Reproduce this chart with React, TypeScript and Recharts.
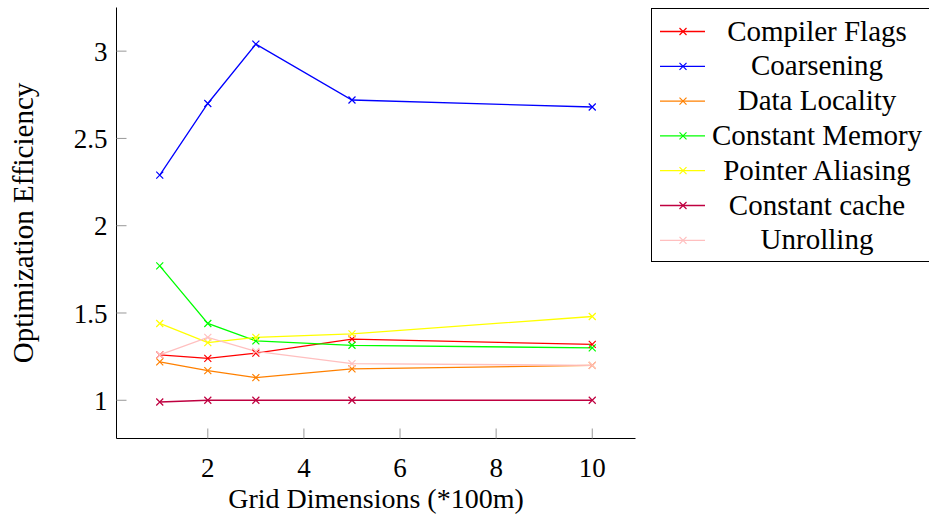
import React from 'react';
import { LineChart, Line, XAxis, YAxis, Legend } from 'recharts';

// grid sizes (*100m)
const gridDims = [1, 2, 3, 5, 10];

const compilerFlags = [1.26, 1.24, 1.27, 1.35, 1.32];
const coarsening = [2.29, 2.7, 3.04, 2.72, 2.68];
const dataLocality = [1.22, 1.17, 1.13, 1.18, 1.2];
const constantMemory = [1.77, 1.44, 1.34, 1.315, 1.3];
const pointerAliasing = [1.44, 1.33, 1.36, 1.38, 1.48];
const constantCache = [0.99, 1.0, 1.0, 1.0, 1.0];
const unrolling = [1.26, 1.36, 1.28, 1.21, 1.2];

const seriesNames = [
  'Compiler Flags',
  'Coarsening',
  'Data Locality',
  'Constant Memory',
  'Pointer Aliasing',
  'Constant cache',
  'Unrolling',
];
const seriesValues = [
  compilerFlags,
  coarsening,
  dataLocality,
  constantMemory,
  pointerAliasing,
  constantCache,
  unrolling,
];
const seriesColors = ['#ff0000', '#0000ff', '#ff8000', '#00ff00', '#ffff00', '#bf0040', '#ffbfbf'];

const xTicks = [2, 4, 6, 8, 10];
const yTicks = [1, 1.5, 2, 2.5, 3];

const data = gridDims.map((x, i) => {
  const row: Record<string, number> = { x };
  seriesNames.forEach((name, s) => {
    row[name] = seriesValues[s][i];
  });
  return row;
});

const FONT = "'Liberation Serif', 'Times New Roman', serif";
const W = 929;
const H = 516;
const PLOT_LEFT = 116.5;
const PLOT_RIGHT = 635.5;
const PLOT_TOP = 7.5;
const PLOT_BOTTOM = 438.5;

const XMark = (props: any) => {
  const { cx, cy, stroke } = props;
  if (cx == null || cy == null) return null;
  const r = 3.5;
  return (
    <path
      d={`M${cx - r},${cy - r}L${cx + r},${cy + r}M${cx - r},${cy + r}L${cx + r},${cy - r}`}
      stroke={stroke}
      strokeWidth={1.2}
      fill="none"
    />
  );
};

const XTitle = (props: any) => {
  const vb = props.viewBox || {};
  const cx = vb.width ? vb.x + vb.width / 2 : (PLOT_LEFT + PLOT_RIGHT) / 2;
  return (
    <text x={cx} y={508} textAnchor="middle" style={{ fontFamily: FONT, fontSize: 28 }} fill="#000">
      Grid Dimensions (*100m)
    </text>
  );
};

const YTitle = (props: any) => {
  const vb = props.viewBox || {};
  const cy = vb.height ? vb.y + vb.height / 2 : (PLOT_TOP + PLOT_BOTTOM) / 2;
  const cx = 33;
  return (
    <text
      x={cx}
      y={cy}
      transform={`rotate(-90 ${cx} ${cy})`}
      textAnchor="middle"
      style={{ fontFamily: FONT, fontSize: 29 }}
      fill="#000"
    >
      Optimization Efficiency
    </text>
  );
};

// keep the legend in plotting order (recharts sorts by name otherwise)
const renderLegend = () => {
  const rowH = 34.8;
  return (
    <svg width={290} height={254} style={{ display: 'block' }}>
      {seriesNames.map((name, i) => {
        const cy = 22.5 + i * rowH;
        return (
          <g key={name}>
            <line x1={8} x2={53} y1={cy} y2={cy} stroke={seriesColors[i]} strokeWidth={1.3} />
            <XMark cx={31} cy={cy} stroke={seriesColors[i]} />
            <text
              x={165}
              y={cy + 9}
              textAnchor="middle"
              style={{ fontFamily: FONT, fontSize: 29 }}
              fill="#000"
            >
              {name}
            </text>
          </g>
        );
      })}
    </svg>
  );
};

const tickStyle = { fill: '#000', fontSize: 27, fontFamily: FONT };
const emptyTick = () => <g />;

export default function App() {
  return (
    <div style={{ position: 'absolute', left: 0, top: 0, width: W, height: H, background: '#fff' }}>
      <LineChart
        width={W}
        height={H}
        data={data}
        margin={{ top: PLOT_TOP, right: W - PLOT_RIGHT, bottom: 0, left: 0 }}
      >
        <XAxis
          xAxisId="bottom"
          dataKey="x"
          type="number"
          domain={[0.1, 10.9]}
          ticks={xTicks}
          allowDataOverflow
          height={H - PLOT_BOTTOM}
          axisLine={{ stroke: '#000', strokeWidth: 1 }}
          tickLine={{ stroke: '#999' }}
          tickSize={-10}
          tickMargin={29}
          tick={tickStyle}
          label={<XTitle />}
        />
        <XAxis
          xAxisId="top"
          orientation="top"
          dataKey="x"
          type="number"
          domain={[0.1, 10.9]}
          ticks={xTicks}
          allowDataOverflow
          height={0}
          axisLine={{ stroke: '#000', strokeWidth: 1 }}
          tickLine={{ stroke: '#999' }}
          tickSize={-10}
          tick={emptyTick}
        />
        <YAxis
          yAxisId="left"
          type="number"
          domain={[0.781, 3.25]}
          ticks={yTicks}
          allowDataOverflow
          width={PLOT_LEFT}
          axisLine={{ stroke: '#000', strokeWidth: 1 }}
          tickLine={{ stroke: '#999' }}
          tickSize={-10}
          tickMargin={19}
          tick={tickStyle}
          label={<YTitle />}
        />
        <YAxis
          yAxisId="right"
          orientation="right"
          type="number"
          domain={[0.781, 3.25]}
          ticks={yTicks}
          allowDataOverflow
          width={0}
          axisLine={{ stroke: '#000', strokeWidth: 1 }}
          tickLine={{ stroke: '#999' }}
          tickSize={-10}
          tick={emptyTick}
        />
        <Legend
          layout="vertical"
          align="center"
          verticalAlign="middle"
          content={renderLegend}
          wrapperStyle={{
            position: 'absolute',
            left: 651,
            top: 8,
            width: 290,
            height: 254,
            border: '1px solid #000',
            boxSizing: 'border-box',
            background: '#fff',
          }}
        />
        {seriesNames.map((name, s) => (
          <Line
            key={name}
            xAxisId="bottom"
            yAxisId="left"
            type="linear"
            dataKey={name}
            name={name}
            stroke={seriesColors[s]}
            strokeWidth={1.3}
            isAnimationActive={false}
            dot={(p: any) => <XMark key={`${name}-${p.index}`} {...p} stroke={seriesColors[s]} />}
            activeDot={false}
          />
        ))}
      </LineChart>
    </div>
  );
}
